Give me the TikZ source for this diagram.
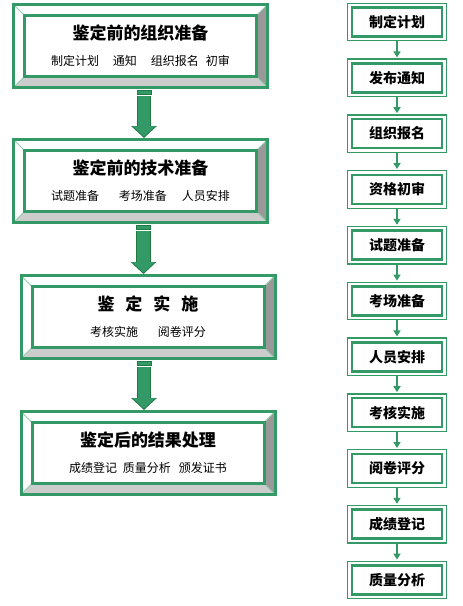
\documentclass[tikz,border=0pt]{standalone}
\usepackage{fontspec}
\setmainfont{Noto Sans CJK SC}
\usetikzlibrary{arrows.meta,positioning,calc}

\definecolor{stagegreen}{HTML}{339966}
\definecolor{arrowdark}{HTML}{1F7A3F}
\definecolor{bevgray}{HTML}{999999}
\definecolor{bevlight}{HTML}{CCCCCC}
\definecolor{bevline}{HTML}{8FCFAE}

\newcommand\stagetitle[1]{{\fontsize{17}{20}\selectfont\bfseries #1}}

\begin{document}
\begin{tikzpicture}[
    x=1pt, y=1pt,
    stage/.style={draw=stagegreen, line width=3pt, fill=white, outer sep=auto,
      minimum width=254pt, minimum height=83pt, align=center, inner sep=0pt,
      font=\fontsize{12}{26}\selectfont,
      path picture={
        \coordinate (sw) at (path picture bounding box.south west);
        \coordinate (ne) at (path picture bounding box.north east);
        \coordinate (nw) at (sw |- ne);
        \coordinate (se) at (ne |- sw);
        \fill[bevgray] (ne) -- (se) -- ($(se)+(-11,11)$) -- ($(ne)+(-11,-11)$) -- cycle;
        \fill[bevlight] (sw) -- (se) -- ($(se)+(-11,11)$) -- ($(sw)+(11,11)$) -- cycle;
        \draw[bevline, line width=1pt] (sw) -- ++(11,11) (se) -- ++(-11,11)
          (ne) -- ++(-11,-11) (nw) -- ++(11,-11);
        \draw[stagegreen, line width=3pt] ($(sw)+(11,11)$) rectangle ($(ne)+(-11,-11)$);
      }},
    task/.style={draw=stagegreen, line width=1.3pt, outer sep=auto,
      minimum width=98.7pt, minimum height=37.5pt, font=\fontsize{14}{16}\selectfont\bfseries,
      path picture={
        \draw[stagegreen, line width=2.6pt] ([shift={(4.3,4.3)}]path picture bounding box.south west)
          rectangle ([shift={(-4.3,-4.3)}]path picture bounding box.north east);
      }},
    flow/.style={draw=stagegreen, line width=1.5pt, -{Triangle[width=7pt,length=6pt]}, shorten >=1pt},
    bigbar/.style={fill=stagegreen, draw=arrowdark, line width=0.8pt},
    bigarr/.style={draw=stagegreen, line width=12.5pt, -{Triangle[width=22pt,length=10.5pt]}, shorten >=1.3pt,
      preaction={draw=arrowdark, line width=14.5pt, -{Triangle[width=25pt,length=12pt]}, shorten >=0pt}},
  ]
    \useasboundingbox (0,0) rectangle (463,-606);

    % stages on the left
    \node[stage] (s1) at (140.5,-46) {\stagetitle{鉴定前的组织准备}\\
      制定计划\hspace{14pt}通知\hspace{14pt}组织报名\hspace{7pt}初审};
    \node[stage, below=49pt of s1] (s2) {\stagetitle{鉴定前的技术准备}\\
      试题准备\hspace{20pt}考场准备\hspace{15pt}人员安排};
    \node[stage, below=50pt of s2, xshift=7.5pt] (s3) {\stagetitle{鉴\hspace{11pt}定\hspace{11pt}实\hspace{11pt}施}\\
      考核实施\hspace{20pt}阅卷评分};
    \node[stage, below=50pt of s3] (s4) {\stagetitle{鉴定后的结果处理}\\
      成绩登记\hspace{6pt}质量分析\hspace{8pt}颁发证书};

    \draw[bigbar] ([shift={(-3.5,-1.5)}]s1.south) rectangle ([shift={(10.5,-5)}]s1.south);
    \draw[bigarr] ([shift={(3.5,-7)}]s1.south) -- ([xshift=3.5pt]s2.north);
    \draw[bigbar] ([shift={(-4,-1.5)}]s2.south) rectangle ([shift={(10,-5)}]s2.south);
    \draw[bigarr] ([shift={(3,-7)}]s2.south) -- ([xshift=-4.5pt]s3.north);
    \draw[bigbar] ([shift={(-11,-1.5)}]s3.south) rectangle ([shift={(3,-5)}]s3.south);
    \draw[bigarr] ([shift={(-4,-7)}]s3.south) -- ([xshift=-4pt]s4.north);

    % steps on the right
    \node[task] (t1) at (397,-22) {制定计划};
    \node[task, below=17pt of t1] (t2) {发布通知};
    \node[task, below=17pt of t2] (t3) {组织报名};
    \node[task, below=17pt of t3] (t4) {资格初审};
    \node[task, below=17pt of t4] (t5) {试题准备};
    \node[task, below=17pt of t5] (t6) {考场准备};
    \node[task, below=17pt of t6] (t7) {人员安排};
    \node[task, below=17pt of t7] (t8) {考核实施};
    \node[task, below=17pt of t8] (t9) {阅卷评分};
    \node[task, below=17pt of t9] (t10) {成绩登记};
    \node[task, below=17pt of t10] (t11) {质量分析};

    \draw[flow] (t1) -- (t2);
    \draw[flow] (t2) -- (t3);
    \draw[flow] (t3) -- (t4);
    \draw[flow] (t4) -- (t5);
    \draw[flow] (t5) -- (t6);
    \draw[flow] (t6) -- (t7);
    \draw[flow] (t7) -- (t8);
    \draw[flow] (t8) -- (t9);
    \draw[flow] (t9) -- (t10);
    \draw[flow] (t10) -- (t11);
  \end{tikzpicture}
\end{document}
